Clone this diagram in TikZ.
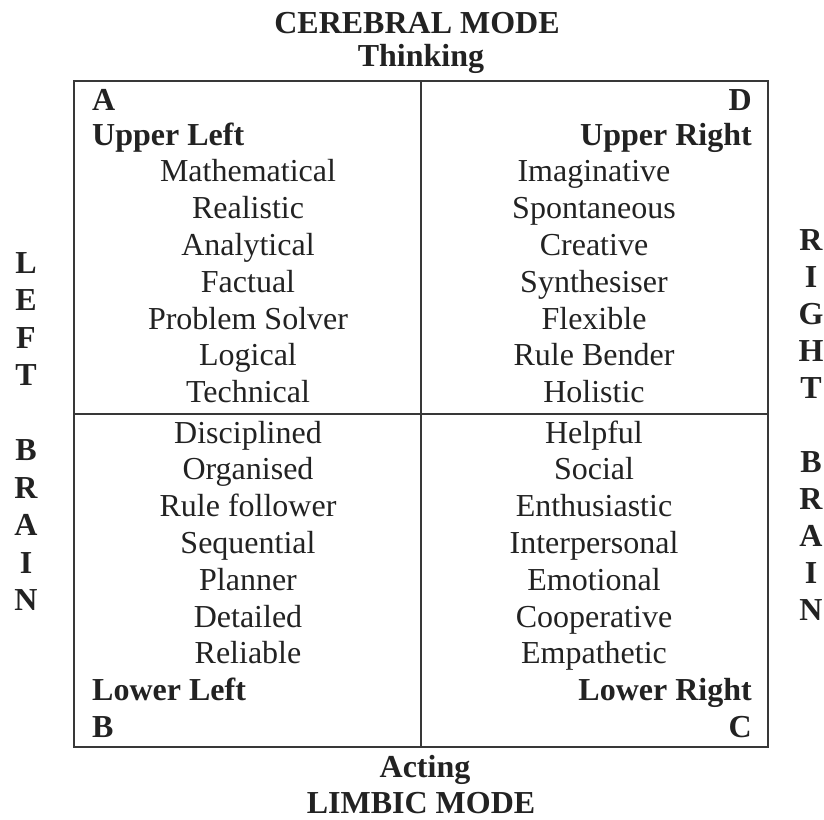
\documentclass[tikz,border=0pt]{standalone}
\usepackage{fontspec}
\setmainfont{Liberation Serif}
\definecolor{ink}{HTML}{222222}
\tikzset{
	word/.style={inner sep=0pt, anchor=base, text=ink, font=\fontsize{32}{36}\selectfont},
	head/.style={word, font=\fontsize{32}{36}\selectfont\bfseries},
	grid/.style={draw=ink!90, line width=1.6pt}
}
\begin{document}
\begin{tikzpicture}[x=1pt, y=-1pt]
		\useasboundingbox (0,0) rectangle (824,819);
		%frame and quadrants
		\draw[grid] (74,81) rectangle (768,747);
		\draw[grid] (421,81) -- (421,747);
		\draw[grid] (74,414) -- (768,414);
		
		%modes
		\node[head] (cerebral) at (417,33) {CEREBRAL MODE};
		\node[head] (thinking) at (421,66) {Thinking};
		\node[head] (acting) at (425,777) {Acting};
		\node[head] (limbic) at (421,813) {LIMBIC MODE};
		
		%quadrant heads
		\node[head, anchor=base west] (qa) at (92,110) {A};
		\node[head, anchor=base west] (upleft) at (92,145) {Upper Left};
		\node[head, anchor=base east] (qd) at (752,110) {D};
		\node[head, anchor=base east] (upright) at (752,145) {Upper Right};
		\node[head, anchor=base west] (lowleft) at (92,700) {Lower Left};
		\node[head, anchor=base west] (qb) at (92,737) {B};
		\node[head, anchor=base east] (lowright) at (752,700) {Lower Right};
		\node[head, anchor=base east] (qc) at (752,737) {C};
		
		%traits
		\foreach \w [count=\i] in {Mathematical, Realistic, Analytical, Factual, Problem Solver, Logical, Technical}{
			\node[word] (ul\i) at (248, 145+36.8*\i) {\w};
		}
		\foreach \w [count=\i] in {Imaginative, Spontaneous, Creative, Synthesiser, Flexible, Rule Bender, Holistic}{
			\node[word] (ur\i) at (594, 145+36.8*\i) {\w};
		}
		\foreach \w [count=\i] in {Disciplined, Organised, Rule follower, Sequential, Planner, Detailed, Reliable}{
			\node[word] (ll\i) at (248, 406.2+36.8*\i) {\w};
		}
		\foreach \w [count=\i] in {Helpful, Social, Enthusiastic, Interpersonal, Emotional, Cooperative, Empathetic}{
			\node[word] (lr\i) at (594, 406.2+36.8*\i) {\w};
		}
		
		%brain sides
		\foreach \c/\y in {L/273, E/310.5, F/348, T/385.5, B/460.5, R/498, A/535.5, I/573, N/610.5}{
			\node[head] (left\y) at (26, \y) {\c};
		}
		\foreach \c/\y in {R/250, I/287, G/324, H/361, T/398, B/472, R/509, A/546, I/583, N/620}{
			\node[head] (right\y) at (811, \y) {\c};
		}
	\end{tikzpicture}
\end{document}
